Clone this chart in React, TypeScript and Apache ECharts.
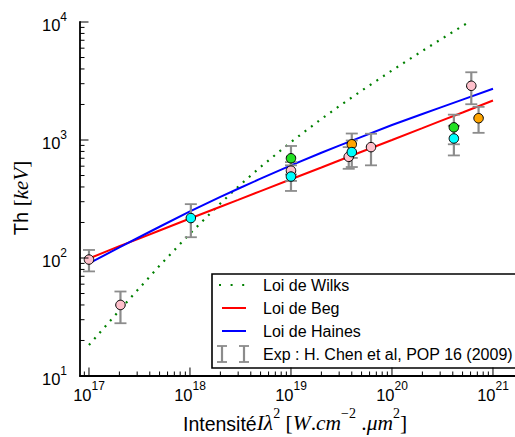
import React, { useEffect, useRef } from 'react';
import * as echarts from 'echarts';

// Theory curves
const wilksX = [1e17, 2e17, 3e17, 5e17, 1e18, 2e18, 3e18, 5e18, 1e19, 2e19, 3e19, 5e19, 1e20, 2e20, 3e20, 5e20, 6e20];
const wilksY = [18.3, 36, 53, 86, 161, 290, 402, 591, 961, 1508, 1934, 2618, 3885, 5685, 7068, 9266, 10196];
const curveX = [1e17, 2e17, 3e17, 5e17, 1e18, 2e18, 3e18, 5e18, 1e19, 2e19, 3e19, 5e19, 1e20, 2e20, 3e20, 5e20, 1e21];
const begY = [99, 126, 144, 171, 216, 272, 311, 369, 465, 585, 670, 795, 1000, 1260, 1445, 1710, 2160];
const hainesY = [90, 123, 147, 184, 248, 330, 386, 470, 609, 780, 896, 1064, 1340, 1660, 1880, 2200, 2720];

// Experimental points (H. Chen et al, POP 16 (2009))
const expX = [1e17, 2.05e17, 3.73e19, 6.2e19, 6.1e20, 1e19, 4e19, 7.2e20, 1e19, 4.1e20, 1.02e18, 1e19, 4e19, 4.1e20];
const expY = [97, 40, 720, 870, 2880, 550, 920, 1530, 700, 1280, 218, 490, 790, 1030];
const expErr = [20, 12, 150, 260, 870, 100, 215, 380, 190, 360, 68, 120, 200, 290];
const expColor = ['#ffc0cb', '#ffc0cb', '#ffc0cb', '#ffc0cb', '#ffc0cb', '#ffc0cb', '#ffa500', '#ffa500', '#22e022', '#22e022', '#00ffff', '#00ffff', '#00ffff', '#00ffff'];

// Axis ticks
const xMajorTicks = [1e17, 1e18, 1e19, 1e20, 1e21];
const xDecades = [1e16, 1e17, 1e18, 1e19, 1e20];
const yMajorTicks = [10, 100, 1000, 10000];
const yDecades = [10, 100, 1000];
const minorMantissas = [2, 3, 4, 5, 6, 7, 8, 9];

const X_MIN = 8.15e16;
const X_MAX = 1.652e21;
const Y_MIN = 10;
const Y_MAX = 10000;

const legendNames = ['Loi de Wilks', 'Loi de Beg', 'Loi de Haines', 'Exp : H. Chen et al, POP 16 (2009)'];

const SANS = '"Liberation Sans", Arial, sans-serif';
const SERIF = '"Liberation Serif", "Times New Roman", serif';

function isPow10(v: number) {
  const l = Math.log10(v);
  return Math.abs(l - Math.round(l)) < 1e-6;
}

const tickRich = {
  a: { fontSize: 16.5, fontFamily: SANS, color: '#000', padding: [6, 0, 0, 0] },
  b: { fontSize: 12, fontFamily: SANS, color: '#000', verticalAlign: 'top' },
};

function labelFmt(v: number) {
  if (!isPow10(v)) return '';
  return '{a|10}{b|' + Math.round(Math.log10(v)) + '}';
}

export default function App() {
  const ref = useRef<HTMLDivElement>(null);
  useEffect(() => {
    if (!ref.current) return;
    const chart = echarts.init(ref.current, null, { renderer: 'svg' });

    const tickData: number[][] = [];
    xMajorTicks.forEach((v) => tickData.push([v, 100, 0]));
    xDecades.forEach((d) => minorMantissas.forEach((m) => {
      const v = d * m;
      if (v > X_MIN && v < X_MAX) tickData.push([v, 100, 1]);
    }));
    yMajorTicks.forEach((v) => tickData.push([1e18, v, 2]));
    yDecades.forEach((d) => minorMantissas.forEach((m) => tickData.push([1e18, d * m, 3])));

    const expData = expX.map((x, i) => ({
      value: [x, expY[i]],
      itemStyle: { color: expColor[i] },
    }));
    const errData = expX.map((x, i) => [x, expY[i], expErr[i]]);

    const lx = 212, ly = 274;
    const option: any = {
      animation: false,
      grid: { left: 80, top: 22, right: 0, bottom: 61, outerBoundsMode: 'none', containLabel: false },
      xAxis: {
        type: 'log', logBase: 10, min: X_MIN, max: X_MAX,
        axisLine: { show: true, onZero: false, lineStyle: { color: '#000', width: 1.8 } },
        axisTick: { show: false },
        minorTick: { show: false },
        splitLine: { show: false },
        axisLabel: { formatter: labelFmt, rich: tickRich, margin: 4, showMinLabel: true, showMaxLabel: true, hideOverlap: false },
      },
      yAxis: {
        type: 'log', logBase: 10, min: Y_MIN, max: Y_MAX,
        axisLine: { show: true, onZero: false, lineStyle: { color: '#000', width: 1.8 } },
        axisTick: { show: false },
        minorTick: { show: false },
        splitLine: { show: false },
        axisLabel: { formatter: labelFmt, rich: tickRich, margin: 13, hideOverlap: false },
      },
      series: [
        {
          type: 'custom', name: 'ticks', clip: false, silent: true, z: 5,
          data: tickData,
          encode: { x: 0, y: 1 },
          renderItem: (params: any, api: any) => {
            const cs = params.coordSys;
            const kind = api.value(2);
            const bottom = cs.y + cs.height;
            const left = cs.x;
            if (kind === 0 || kind === 1) {
              const p = api.coord([api.value(0), 100]);
              const len = kind === 0 ? 8.5 : 4.5;
              return { type: 'line', shape: { x1: p[0], y1: bottom, x2: p[0], y2: bottom - len }, style: { stroke: '#000', lineWidth: 1 } };
            }
            const p = api.coord([1e18, api.value(1)]);
            const len = kind === 2 ? 8.5 : 4.5;
            return { type: 'line', shape: { x1: left, y1: p[1], x2: left + len, y2: p[1] }, style: { stroke: '#000', lineWidth: 1 } };
          },
        },
        {
          type: 'line', name: legendNames[0], data: wilksX.map((x, i) => [x, wilksY[i]]),
          showSymbol: false, symbol: 'none', z: 2,
          lineStyle: { color: '#008000', width: 2.2, type: [2, 6], cap: 'butt' },
        },
        {
          type: 'line', name: legendNames[1], data: curveX.map((x, i) => [x, begY[i]]),
          showSymbol: false, symbol: 'none', z: 2,
          lineStyle: { color: '#ff0000', width: 2 },
        },
        {
          type: 'line', name: legendNames[2], data: curveX.map((x, i) => [x, hainesY[i]]),
          showSymbol: false, symbol: 'none', z: 2,
          lineStyle: { color: '#0000ff', width: 2 },
        },
        {
          type: 'custom', name: 'errors', z: 3, clip: false,
          data: errData,
          encode: { x: 0, y: 1 },
          renderItem: (params: any, api: any) => {
            const x = api.value(0), y = api.value(1), e = api.value(2);
            const t = api.coord([x, y + e]);
            const b = api.coord([x, y - e]);
            const hw = 6;
            const st = { stroke: '#8c8c8c', lineWidth: 2.2 };
            return {
              type: 'group', children: [
                { type: 'line', shape: { x1: t[0], y1: t[1], x2: b[0], y2: b[1] }, style: st },
                { type: 'line', shape: { x1: t[0] - hw, y1: t[1], x2: t[0] + hw, y2: t[1] }, style: { stroke: '#8c8c8c', lineWidth: 1.8 } },
                { type: 'line', shape: { x1: b[0] - hw, y1: b[1], x2: b[0] + hw, y2: b[1] }, style: { stroke: '#8c8c8c', lineWidth: 1.8 } },
              ],
            };
          },
        },
        {
          type: 'scatter', name: legendNames[3], data: expData, z: 4,
          symbol: 'circle', symbolSize: 9.5,
          itemStyle: { borderColor: '#000', borderWidth: 1, opacity: 1 },
        },
      ],
      graphic: [
        {
          type: 'text', x: 21, y: 198, rotation: Math.PI / 2, z: 10,
          style: {
            text: '{t|Th }{r|[}{i|keV}{r|]}',
            align: 'center', verticalAlign: 'middle',
            rich: {
              t: { fontSize: 20, fontFamily: SANS, color: '#000' },
              r: { fontSize: 21, fontFamily: SERIF, color: '#000' },
              i: { fontSize: 21, fontFamily: SERIF, fontStyle: 'italic', color: '#000' },
            },
          },
        },
        {
          type: 'text', x: 183, y: 406, z: 10,
          style: {
            text: '{t|Intensité}{i|Iλ}{p|2}{r| [}{i|W}{r|.}{i|cm}{p|−2}{r| .}{i|μm}{p|2}{r|]}',
            align: 'left', verticalAlign: 'top',
            rich: {
              t: { fontSize: 19.5, fontFamily: SANS, color: '#000', padding: [6, 0, 0, 0], verticalAlign: 'bottom' },
              r: { fontSize: 21.5, fontFamily: SERIF, color: '#000', padding: [6, 0, 0, 0], verticalAlign: 'bottom' },
              i: { fontSize: 21.5, fontFamily: SERIF, fontStyle: 'italic', color: '#000', padding: [6, 0, 0, 0], verticalAlign: 'bottom' },
              p: { fontSize: 14, fontFamily: SERIF, color: '#000', verticalAlign: 'top' },
            },
          },
        },
        {
          type: 'group', z: 20, children: [
            { type: 'rect', shape: { x: lx, y: ly, width: 320, height: 94 }, style: { fill: '#fff', stroke: '#000', lineWidth: 1.6 } },
            { type: 'line', shape: { x1: 219, y1: 285, x2: 246, y2: 285 }, style: { stroke: '#008000', lineWidth: 2.2, lineDash: [2, 9.6] } },
            { type: 'line', shape: { x1: 222, y1: 308, x2: 246, y2: 308 }, style: { stroke: '#ff0000', lineWidth: 2 } },
            { type: 'line', shape: { x1: 222, y1: 331, x2: 246, y2: 331 }, style: { stroke: '#0000ff', lineWidth: 2 } },
            { type: 'line', shape: { x1: 222, y1: 346, x2: 222, y2: 362 }, style: { stroke: '#8c8c8c', lineWidth: 2.2 } },
            { type: 'line', shape: { x1: 217, y1: 346, x2: 227, y2: 346 }, style: { stroke: '#8c8c8c', lineWidth: 1.8 } },
            { type: 'line', shape: { x1: 217, y1: 362, x2: 227, y2: 362 }, style: { stroke: '#8c8c8c', lineWidth: 1.8 } },
            { type: 'line', shape: { x1: 244, y1: 346, x2: 244, y2: 362 }, style: { stroke: '#8c8c8c', lineWidth: 2.2 } },
            { type: 'line', shape: { x1: 239, y1: 346, x2: 249, y2: 346 }, style: { stroke: '#8c8c8c', lineWidth: 1.8 } },
            { type: 'line', shape: { x1: 239, y1: 362, x2: 249, y2: 362 }, style: { stroke: '#8c8c8c', lineWidth: 1.8 } },
            ...legendNames.map((n, i) => ({
              type: 'text', x: 263, y: 285 + i * 23, z: 21,
              style: { text: n, fontSize: 16, fontFamily: SANS, fill: '#000', align: 'left', verticalAlign: 'middle' },
            })),
          ],
        },
      ],
    };
    chart.setOption(option);
    return () => chart.dispose();
  }, []);
  return <div ref={ref} style={{ position: 'absolute', left: 0, top: 0, width: 515, height: 437 }} />;
}
